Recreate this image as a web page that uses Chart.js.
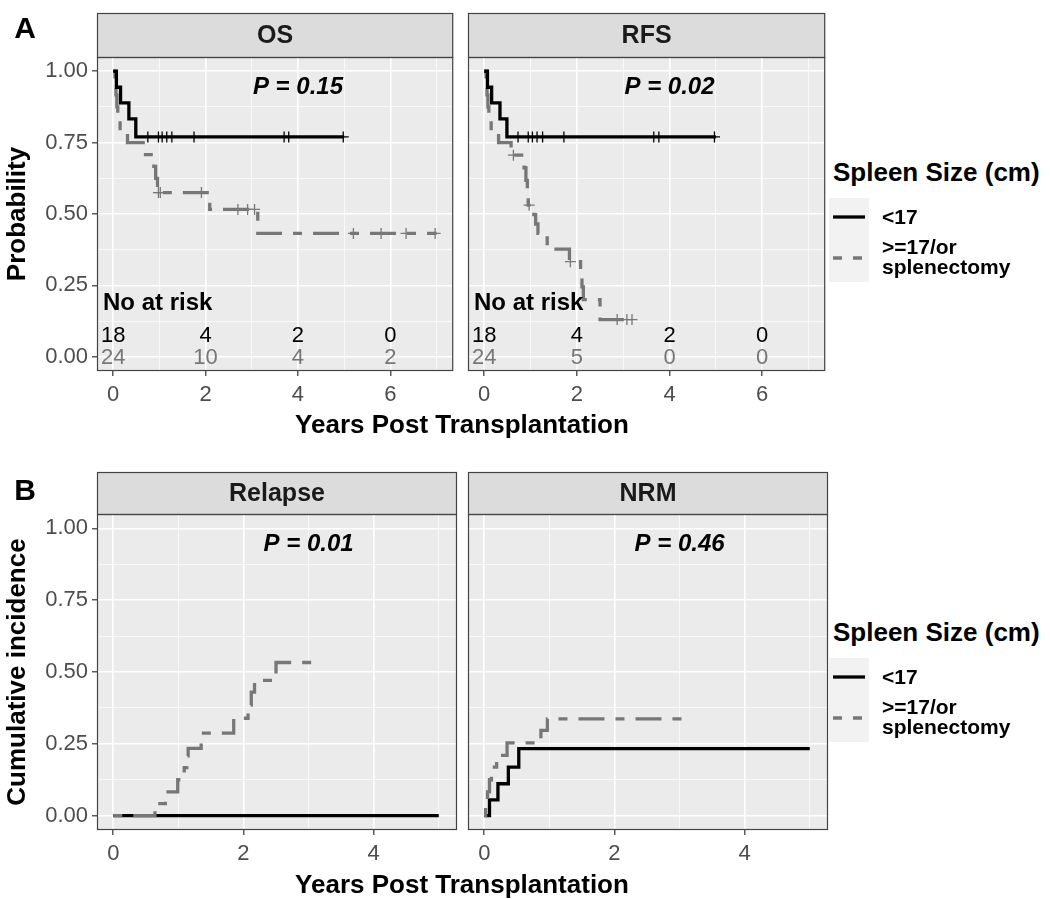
<!DOCTYPE html>
<html>
<head>
<meta charset="utf-8">
<script src="https://cdn.jsdelivr.net/npm/chart.js@4.4.1/dist/chart.umd.min.js"></script>
<style>
  body { margin: 0; background: #fff; font-family: "Liberation Sans", Arial, Helvetica, sans-serif; }
  #page { position: relative; width: 1050px; height: 899px; overflow: hidden; }
  #page canvas { position: absolute; }
  .txt { position: absolute; white-space: nowrap; color: #000; font-weight: bold; transform: translate(0, -50%); }
  .ctr { transform: translate(-50%, -50%); }
  .rot { transform: translate(-50%, -50%) rotate(-90deg); }
  .key { position: absolute; background: #F2F2F2; }
</style>
</head>
<body>
<div id="page">
  <canvas id="osChart" width="460" height="411" style="left:0;top:0"></canvas>
  <canvas id="rfsChart" width="372" height="411" style="left:460px;top:0"></canvas>
  <canvas id="relChart" width="460" height="410" style="left:0;top:460px"></canvas>
  <canvas id="nrmChart" width="372" height="410" style="left:460px;top:460px"></canvas>
</div>
<script>
// 軸刻度
const xTicksA = [0, 1, 2, 3, 4, 5, 6, 7];
const xTicksB = [0, 1, 2, 3, 4, 5];
const yTicks = [0, 0.125, 0.25, 0.375, 0.5, 0.625, 0.75, 0.875, 1];

// OS: <17 (黑) 與 >=17/or splenectomy (灰)
const osLowT = [0, 0.07, 0.16, 0.34, 0.49, 5.0];
const osLowS = [1, 0.944, 0.889, 0.833, 0.770, 0.770];
const osLowCensor = [0.75, 0.98, 1.06, 1.16, 1.27, 1.75, 3.70, 3.80, 4.98];
const osHighT = [0, 0.04, 0.06, 0.08, 0.10, 0.15, 0.31, 0.70, 0.88, 0.92, 0.96, 2.09, 3.13, 7.0];
const osHighS = [1, 0.958, 0.917, 0.875, 0.833, 0.792, 0.75, 0.708, 0.667, 0.625, 0.575, 0.516, 0.432, 0.432];
const osHighCensor = [0.98, 1.02, 1.91, 2.70, 2.91, 3.06, 5.20, 5.80, 6.34, 6.97];

// RFS
const rfsLowT = [0, 0.07, 0.16, 0.34, 0.49, 5.0];
const rfsLowS = [1, 0.944, 0.889, 0.833, 0.770, 0.770];
const rfsLowCensor = [0.73, 0.95, 1.04, 1.14, 1.26, 1.72, 3.66, 3.77, 4.97];
const rfsHighT = [0, 0.04, 0.06, 0.08, 0.10, 0.15, 0.31, 0.58, 0.86, 0.90, 0.93, 0.95, 1.07, 1.11, 1.16, 1.36, 1.84, 2.08, 2.11, 2.14, 2.50, 3.19];
const rfsHighS = [1, 0.958, 0.917, 0.875, 0.833, 0.792, 0.75, 0.706, 0.662, 0.618, 0.575, 0.531, 0.498, 0.465, 0.432, 0.377, 0.333, 0.289, 0.245, 0.20, 0.13, 0.13];
const rfsHighCensor = [0.63, 0.97, 1.86, 2.87, 3.08, 3.19];

// Relapse (累積發生率)
const relLowT = [0, 5.0];
const relLowV = [0, 0];
const relHighT = [0, 0.64, 0.80, 0.99, 1.09, 1.13, 1.15, 1.35, 1.85, 2.07, 2.12, 2.17, 2.50, 3.17];
const relHighV = [0, 0.042, 0.083, 0.125, 0.167, 0.208, 0.234, 0.287, 0.339, 0.385, 0.43, 0.471, 0.533, 0.533];

// NRM
const nrmLowT = [0, 0.08, 0.21, 0.37, 0.53, 5.0];
const nrmLowV = [0, 0.055, 0.111, 0.169, 0.233, 0.233];
const nrmHighT = [0, 0.02, 0.05, 0.08, 0.11, 0.19, 0.35, 0.87, 0.97, 3.18];
const nrmHighV = [0, 0.042, 0.083, 0.125, 0.169, 0.21, 0.253, 0.297, 0.337, 0.337];

// 風險人數表
const riskTimes = [0, 2, 4, 6];
const osRiskLow = [18, 4, 2, 0];
const osRiskHigh = [24, 10, 4, 2];
const rfsRiskLow = [18, 4, 2, 0];
const rfsRiskHigh = [24, 5, 0, 0];

const FONT = '"Liberation Sans", Arial, Helvetica, sans-serif';
const GRAY = '#777777';
const TICK_COL = '#4D4D4D';
const DASH = [9, 11, 26, 11];

function stepLevel(ts, vs, t) {
    let v = vs[0];
    for (let i = 0; i < ts.length; i++) {
        if (ts[i] <= t) v = vs[i];
    }
    return v;
}

function curve(ts, vs) {
    return ts.map((t, i) => ({ x: t, y: vs[i] }));
}

function marks(ts, vs, cs) {
    return cs.map(t => ({ x: t, y: stepLevel(ts, vs, t) }));
}

const isMajorY = v => Math.abs(v * 4 - Math.round(v * 4)) < 1e-6;
const isMajorX = v => v % 2 === 0;

// 面板背景、標題條、P值、風險表
const panelDecor = {
    id: 'panelDecor',
    beforeDraw(chart, args, o) {
        const { ctx, chartArea: a } = chart;
        ctx.save();
        ctx.fillStyle = '#EBEBEB';
        ctx.fillRect(a.left, a.top, a.right - a.left, a.bottom - a.top);
        ctx.fillStyle = '#DCDCDC';
        ctx.fillRect(a.left, a.top - o.stripH, a.right - a.left, o.stripH);
        ctx.strokeStyle = '#444';
        ctx.lineWidth = 1.2;
        ctx.strokeRect(a.left + 0.5, a.top - o.stripH + 0.5, a.right - a.left - 1, o.stripH);
        ctx.fillStyle = '#1A1A1A';
        ctx.font = 'bold 25px ' + FONT;
        ctx.textAlign = 'center';
        ctx.textBaseline = 'middle';
        ctx.fillText(o.title, (a.left + a.right) / 2, a.top - o.stripH / 2 + 1);
        ctx.restore();
    },
    afterDatasetsDraw(chart, args, o) {
        const { ctx, chartArea: a } = chart;
        const xs = chart.scales.x, ys = chart.scales.y;
        ctx.save();
        ctx.fillStyle = '#000';
        ctx.font = 'italic bold 24px ' + FONT;
        ctx.textAlign = 'center';
        ctx.textBaseline = 'middle';
        ctx.fillText(o.pText, xs.getPixelForValue(o.pX), ys.getPixelForValue(0.945));

        if (o.riskLow) {
            ctx.font = 'bold 24px ' + FONT;
            ctx.textAlign = 'left';
            ctx.fillText('No at risk', a.left + 6, ys.getPixelForValue(0.188));
            ctx.font = '22px ' + FONT;
            ctx.textAlign = 'center';
            riskTimes.forEach((t, i) => {
                ctx.fillStyle = '#000';
                ctx.fillText(String(o.riskLow[i]), xs.getPixelForValue(t), ys.getPixelForValue(0.074));
                ctx.fillStyle = GRAY;
                ctx.fillText(String(o.riskHigh[i]), xs.getPixelForValue(t), ys.getPixelForValue(-0.004));
            });
        }
        ctx.strokeStyle = '#444';
        ctx.lineWidth = 1.2;
        ctx.strokeRect(a.left + 0.5, a.top + 0.5, a.right - a.left - 1, a.bottom - a.top - 1);
        ctx.restore();
    }
};

function axisX(min, max, tickVals) {
    return {
        type: 'linear', min: min, max: max,
        afterBuildTicks: s => { s.ticks = tickVals.map(v => ({ value: v })); },
        afterFit: s => { s.height = 40; s.paddingLeft = 0; s.paddingRight = 0; },
        ticks: {
            autoSkip: false, maxRotation: 0, padding: 6, color: TICK_COL,
            font: { family: FONT, size: 22 },
            callback: v => (isMajorX(v) ? String(v) : '')
        },
        grid: {
            color: '#FFFFFF',
            lineWidth: c => (c.tick && isMajorX(c.tick.value) ? 1.6 : 0.7),
            tickLength: 5, tickWidth: 1.2,
            tickColor: c => (c.tick && isMajorX(c.tick.value) ? '#333' : 'rgba(0,0,0,0)')
        },
        border: { display: false }
    };
}

function axisY(showLabels, width) {
    return {
        type: 'linear', min: -0.05, max: 1.05,
        afterBuildTicks: s => { s.ticks = yTicks.map(v => ({ value: v })); },
        afterFit: s => { s.width = width; s.paddingTop = 0; s.paddingBottom = 0; },
        ticks: {
            display: showLabels, padding: 4, color: TICK_COL,
            font: { family: FONT, size: 22 },
            callback: v => (isMajorY(v) ? v.toFixed(2) : '')
        },
        grid: {
            color: '#FFFFFF',
            lineWidth: c => (c.tick && isMajorY(c.tick.value) ? 1.6 : 0.7),
            drawTicks: showLabels, tickLength: 5, tickWidth: 1.2,
            tickColor: c => (c.tick && isMajorY(c.tick.value) ? '#333' : 'rgba(0,0,0,0)')
        },
        border: { display: false }
    };
}

function makePanel(id, cfg) {
    const datasets = [
        { data: curve(cfg.lowT, cfg.lowV), borderColor: '#000', borderWidth: 3.3, stepped: true,
          pointRadius: 0, order: cfg.grayOnTop ? 3 : 2 },
        { data: curve(cfg.highT, cfg.highV), borderColor: GRAY, borderWidth: 3.3, borderDash: DASH, stepped: true,
          pointRadius: 0, order: cfg.grayOnTop ? 2 : 3 }
    ];
    if (cfg.lowCensor) {
        datasets.push({ data: marks(cfg.lowT, cfg.lowV, cfg.lowCensor), showLine: false, pointStyle: 'cross',
            pointRadius: 5.5, pointBorderWidth: 1.3, pointBorderColor: '#000', order: 0 });
    }
    if (cfg.highCensor) {
        datasets.push({ data: marks(cfg.highT, cfg.highV, cfg.highCensor), showLine: false, pointStyle: 'cross',
            pointRadius: 5.5, pointBorderWidth: 1.3, pointBorderColor: GRAY, order: 1 });
    }
    return new Chart(document.getElementById(id), {
        type: 'line',
        data: { datasets: datasets },
        options: {
            responsive: false,
            animation: false,
            devicePixelRatio: 1,
            events: [],
            layout: { padding: { top: cfg.padTop, right: cfg.padRight, left: 0, bottom: 0 } },
            scales: {
                x: axisX(cfg.xMin, cfg.xMax, cfg.xTicks),
                y: axisY(cfg.yLabels, cfg.yWidth)
            },
            plugins: {
                legend: { display: false },
                tooltip: { enabled: false },
                panelDecor: {
                    title: cfg.title, stripH: cfg.stripH, pText: cfg.pText, pX: cfg.pX,
                    riskLow: cfg.riskLow, riskHigh: cfg.riskHigh
                }
            }
        },
        plugins: [panelDecor]
    });
}

makePanel('osChart', {
    title: 'OS', stripH: 44, padTop: 57, padRight: 3, yLabels: true, yWidth: 97,
    xMin: -0.35, xMax: 7.36, xTicks: xTicksA, pText: 'P = 0.15', pX: 4,
    lowT: osLowT, lowV: osLowS, lowCensor: osLowCensor,
    highT: osHighT, highV: osHighS, highCensor: osHighCensor,
    riskLow: osRiskLow, riskHigh: osRiskHigh
});
makePanel('rfsChart', {
    title: 'RFS', stripH: 44, padTop: 57, padRight: 4, yLabels: false, yWidth: 8,
    xMin: -0.35, xMax: 7.36, xTicks: xTicksA, pText: 'P = 0.02', pX: 4,
    lowT: rfsLowT, lowV: rfsLowS, lowCensor: rfsLowCensor,
    highT: rfsHighT, highV: rfsHighS, highCensor: rfsHighCensor,
    riskLow: rfsRiskLow, riskHigh: rfsRiskHigh
});
makePanel('relChart', {
    title: 'Relapse', stripH: 42, padTop: 54, padRight: 3, yLabels: true, yWidth: 97,
    xMin: -0.25, xMax: 5.28, xTicks: xTicksB, pText: 'P = 0.01', pX: 3,
    lowT: relLowT, lowV: relLowV, highT: relHighT, highV: relHighV, grayOnTop: true
});
makePanel('nrmChart', {
    title: 'NRM', stripH: 42, padTop: 54, padRight: 4, yLabels: false, yWidth: 8,
    xMin: -0.25, xMax: 5.28, xTicks: xTicksB, pText: 'P = 0.46', pX: 3,
    lowT: nrmLowT, lowV: nrmLowV, highT: nrmHighT, highV: nrmHighV, grayOnTop: true
});

// 文字標籤與圖例
const page = document.getElementById('page');
function addText(text, x, y, size, cls, extra) {
    const d = document.createElement('div');
    d.className = 'txt ' + (cls || '');
    d.textContent = text;
    d.style.left = x + 'px';
    d.style.top = y + 'px';
    d.style.fontSize = size + 'px';
    if (extra) Object.assign(d.style, extra);
    page.appendChild(d);
}

addText('A', 25, 28, 30, 'ctr');
addText('B', 25, 490, 30, 'ctr');
addText('Probability', 16, 214, 26, 'rot');
addText('Cumulative incidence', 16, 672, 26, 'rot');
addText('Years Post Transplantation', 462, 424, 26, 'ctr');
addText('Years Post Transplantation', 462, 884, 26, 'ctr');

function addLegend(dy) {
    const box = document.createElement('div');
    box.className = 'key';
    Object.assign(box.style, { left: '829px', top: (198 + dy) + 'px', width: '40px', height: '84px' });
    box.innerHTML = '<svg width="40" height="84">' +
        '<line x1="4" y1="19" x2="36" y2="19" stroke="#000" stroke-width="3.3"/>' +
        '<line x1="4" y1="60" x2="36" y2="60" stroke="' + GRAY + '" stroke-width="3.3" stroke-dasharray="9 11"/>' +
        '</svg>';
    page.appendChild(box);
    addText('Spleen Size (cm)', 833, 172 + dy, 26);
    addText('<17', 882, 217 + dy, 21);
    addText('>=17/or', 882, 247 + dy, 21);
    addText('splenectomy', 882, 267 + dy, 21);
}
addLegend(0);
addLegend(460);
</script>
</body>
</html>
